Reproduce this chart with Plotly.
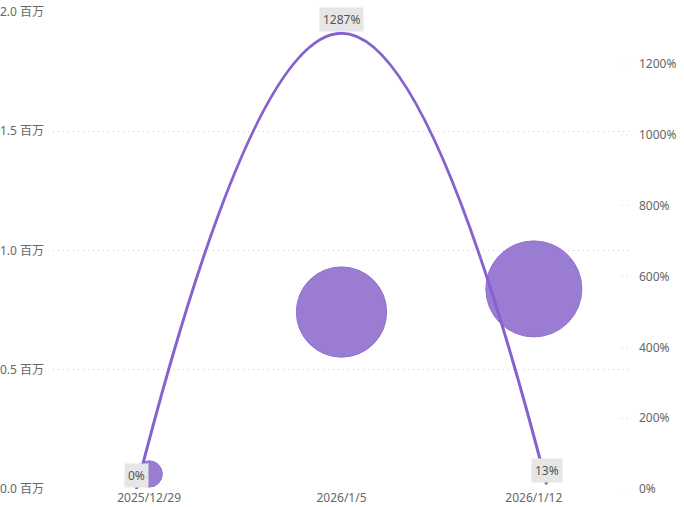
import plotly.graph_objects as go

# data
dates = ["2025/12/29", "2026/1/5", "2026/1/12"]
amount = [63000, 742000, 839000]      # left axis, bubbles
growth = [0, 1287, 13]                # right axis, line (%)
left_ticks = [0, 500000, 1000000, 1500000, 2000000]
left_labels = ["0.0 百万", "0.5 百万", "1.0 百万", "1.5 百万", "2.0 百万"]
right_ticks = [0, 200, 400, 600, 800, 1000, 1200]

font_family = "Noto Sans, Noto Sans CJK SC, sans-serif"
grey = "#666666"

fig = go.Figure()

# bubbles: area follows the amount
fig.add_trace(go.Scatter(
    x=dates, y=amount, mode="markers",
    marker=dict(size=amount, sizemode="area",
                sizeref=2.0 * max(amount) / (96 ** 2),
                color="#9a7dd3", opacity=1,
                line=dict(color="#8f70cf", width=1)),
    xaxis="x", yaxis="y", showlegend=False, hoverinfo="skip"))

# growth line on its own x scale
fig.add_trace(go.Scatter(
    x=dates, y=growth, mode="lines",
    line=dict(color="#8661cf", width=3, shape="spline", smoothing=1.3),
    xaxis="x2", yaxis="y2", showlegend=False, hoverinfo="skip"))

for d, g in zip(dates, growth):
    fig.add_annotation(x=d, y=g, xref="x2", yref="y2", text=f"{g}%",
                       showarrow=False, yshift=14, bgcolor="#e6e6e6",
                       borderpad=3, font=dict(size=12, color="#555555"))

# short dotted ticks for the right axis
for v in right_ticks:
    fig.add_shape(type="line", xref="paper", yref="y2", x0=0.985, x1=1.0,
                  y0=v, y1=v, line=dict(color="#c8c8c8", width=1, dash="1px,4px"))

fig.update_layout(
    width=684, height=507,
    margin=dict(l=53, r=54, t=12, b=18),
    plot_bgcolor="white", paper_bgcolor="white",
    font=dict(family=font_family, size=12, color=grey),
    xaxis=dict(type="category", range=[-0.5, 2.5], showgrid=False,
               zeroline=False, showline=False, ticks="", automargin=False),
    xaxis2=dict(type="category", overlaying="x", range=[-0.407, 2.407],
                visible=False),
    yaxis=dict(range=[0, 2000000], tickvals=left_ticks, ticktext=left_labels,
               showgrid=True, gridcolor="#c8c8c8", griddash="1px,4px",
               zeroline=False, showline=False, ticks="", ticklabelstandoff=8,
               automargin=False),
    yaxis2=dict(range=[0, 1347], overlaying="y", side="right",
                tickvals=right_ticks, ticktext=[f"{v}%" for v in right_ticks],
                showgrid=False, zeroline=False, showline=False, ticks="",
                ticklabelstandoff=8, automargin=False),
)

# drop the default page margin so the figure sits at the corner
fig.write_html("out.html", config={"displayModeBar": False},
               post_script="document.body.style.margin='0';")
